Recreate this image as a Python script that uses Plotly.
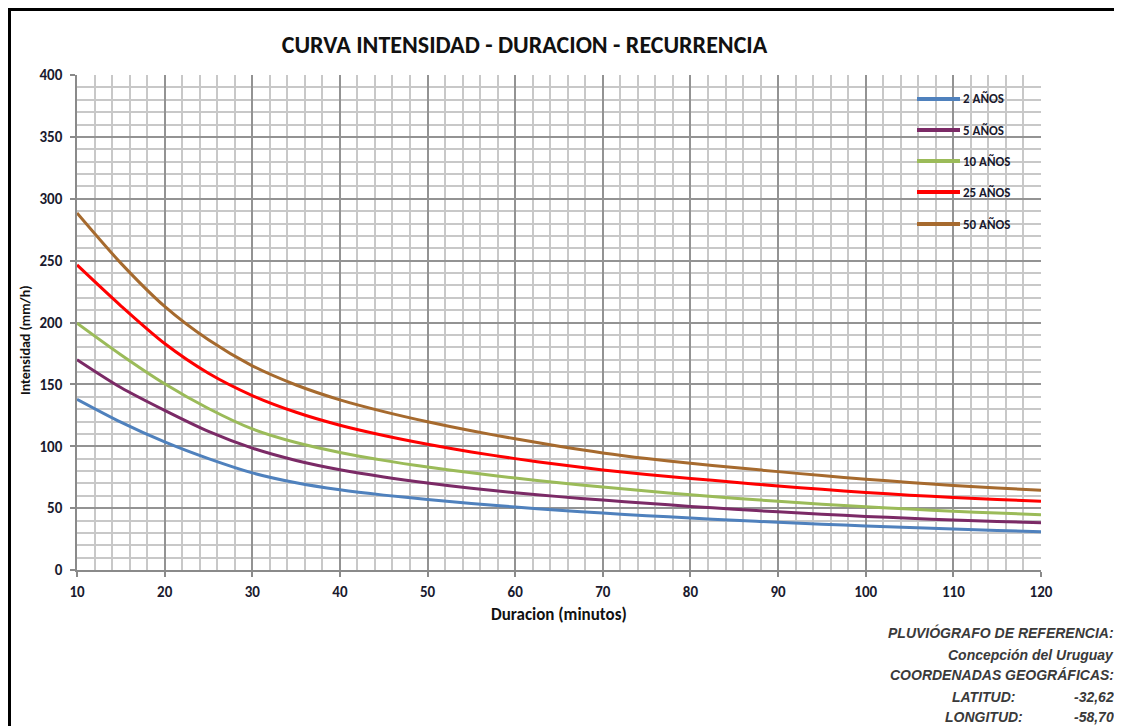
import plotly.graph_objects as go

duracion = [10, 15, 20, 25, 30, 35, 40, 45, 50, 55, 60, 65, 70, 75, 80, 85, 90, 95, 100, 105, 110, 115, 120]

i_2 = [138, 119.5, 103.5, 90, 78.5, 70.5, 64.8, 60.5, 57, 53.8, 50.9, 48.3, 46, 43.9, 42, 40.2, 38.5, 37, 35.6, 34.3, 33.1, 32, 31]
i_5 = [170, 147.5, 129, 112, 98.5, 88.5, 81, 75.2, 70.3, 66.1, 62.4, 59.3, 56.5, 53.9, 51.4, 49.1, 47, 45.1, 43.3, 41.8, 40.4, 39.2, 38.2]
i_10 = [199.5, 174, 150.5, 130.5, 114, 103, 95, 88.6, 83.2, 78.5, 74.3, 70.5, 67, 63.8, 60.8, 58, 55.5, 53.2, 51.1, 49.2, 47.5, 46, 44.7]
i_25 = [246.5, 213.5, 183, 159, 141, 127.5, 117, 108.7, 101.6, 95.4, 90, 85.2, 80.9, 77.2, 74, 70.9, 67.9, 65.2, 62.7, 60.5, 58.6, 57, 55.5]
i_50 = [288.5, 248, 213, 186, 165, 149.5, 137.5, 128, 119.8, 112.5, 106, 100, 94.6, 90.1, 86.3, 82.8, 79.5, 76.3, 73.4, 70.7, 68.3, 66.3, 64.5]

series_names = ["2 AÑOS", "5 AÑOS", "10 AÑOS", "25 AÑOS", "50 AÑOS"]
series_values = [i_2, i_5, i_10, i_25, i_50]
series_colors = ["#4F81BD", "#7B2A66", "#9BBB59", "#FF0000", "#A66A2E"]

x_ticks = [10, 20, 30, 40, 50, 60, 70, 80, 90, 100, 110, 120]
y_ticks = [0, 50, 100, 150, 200, 250, 300, 350, 400]

info_lines = ["PLUVIÓGRAFO DE REFERENCIA:", "Concepción del Uruguay", "COORDENADAS GEOGRÁFICAS:"]
coord_labels = ["LATITUD:", "LONGITUD:"]
coord_values = ["-32,62", "-58,70"]

# page has an 8px body margin: work in reference pixels shifted by OFF
OFF = 8
W, H = 1122, 726
L, R, T, B = 77 - OFF, 1041 - OFF, 75 - OFF, 570 - OFF
pw, ph = R - L, B - T


def px(xp):
    return (xp - OFF - L) / pw


def py(yp):
    return (B - (yp - OFF)) / ph


fig = go.Figure()
for k, (name, vals, col) in enumerate(zip(series_names, series_values, series_colors)):
    fig.add_trace(go.Scatter(
        x=duracion, y=vals, name=name, mode="lines",
        line=dict(color=col, width=3, shape="spline", smoothing=0.8),
        showlegend=False,
    ))

font_main = "Carlito, Lato, 'Open Sans', sans-serif"
tick_col = "#1a1a2e"

fig.update_layout(
    width=W, height=H,
    paper_bgcolor="white", plot_bgcolor="white",
    margin=dict(l=L, r=W - R, t=T, b=H - B, autoexpand=False),
    showlegend=False,
    xaxis=dict(
        range=[10, 120], tickvals=x_ticks, ticktext=[str(v) for v in x_ticks],
        showgrid=True, gridcolor="#939393", gridwidth=1.5,
        minor=dict(dtick=2, showgrid=True, gridcolor="#c8c8c8", gridwidth=1.5),
        showline=True, linecolor="#8a8a8a", linewidth=1.5,
        ticks="outside", ticklen=5, tickcolor="#8a8a8a", tickwidth=1.5,
        zeroline=False, ticklabelstandoff=2,
        tickfont=dict(family=font_main, size=15, color=tick_col, weight="bold"),
    ),
    yaxis=dict(
        range=[0, 400], tickvals=y_ticks, ticktext=[str(v) for v in y_ticks],
        showgrid=True, gridcolor="#939393", gridwidth=1.5,
        minor=dict(dtick=10, showgrid=True, gridcolor="#c8c8c8", gridwidth=1.5),
        showline=True, linecolor="#8a8a8a", linewidth=1.5,
        ticks="outside", ticklen=5, tickcolor="#8a8a8a", tickwidth=1.5,
        zeroline=False, ticklabelstandoff=5,
        tickfont=dict(family=font_main, size=15, color=tick_col, weight="bold"),
    ),
    title=dict(
        text="CURVA INTENSIDAD - DURACION - RECURRENCIA",
        x=(524.5 - OFF) / W, xanchor="center", y=1 - (45 - OFF) / H, yanchor="middle",
        font=dict(family=font_main, size=24, color="#111111", weight="bold"),
    ),
)

# axis titles
fig.add_annotation(text="Duracion (minutos)", xref="paper", yref="paper",
                   x=px(559), y=py(614), xanchor="center", yanchor="middle", showarrow=False,
                   font=dict(family=font_main, size=17, color="#111111", weight="bold"))
fig.add_annotation(text="Intensidad (mm/h)", xref="paper", yref="paper",
                   x=px(25), y=py(340), xanchor="center", yanchor="middle", showarrow=False,
                   textangle=-90,
                   font=dict(family=font_main, size=14, color="#111111", weight="bold"))

# legend (drawn manually to match sample length and row spacing)
leg_y = [99, 130, 161, 192, 224]
for name, col, yy in zip(series_names, series_colors, leg_y):
    fig.add_shape(type="line", xref="paper", yref="paper",
                  x0=px(917), x1=px(960), y0=py(yy), y1=py(yy),
                  line=dict(color=col, width=4))
    fig.add_annotation(text=name, xref="paper", yref="paper", x=px(961), y=py(yy),
                       xanchor="left", yanchor="middle", showarrow=False,
                       font=dict(family=font_main, size=13, color=tick_col, weight="bold"))

# outer frame
fig.add_shape(type="rect", xref="paper", yref="paper",
              x0=px(9.5), x1=px(1116.5), y0=py(9.5), y1=py(770),
              line=dict(color="black", width=3), fillcolor="rgba(0,0,0,0)", layer="above")

info_font = dict(family="'Liberation Sans', Arial, sans-serif", size=14, color="#3a3a3a",
                 weight="bold", style="italic")
info_y = [632, 655, 675]
for txt, yy in zip(info_lines, info_y):
    fig.add_annotation(text=txt, xref="paper", yref="paper", x=px(1116), y=py(yy),
                       xanchor="right", yanchor="middle", showarrow=False, font=info_font)
coord_y = [697, 717]
for lab, val, yy in zip(coord_labels, coord_values, coord_y):
    fig.add_annotation(text=lab, xref="paper", yref="paper", x=px(984), y=py(yy),
                       xanchor="center", yanchor="middle", showarrow=False, font=info_font)
    fig.add_annotation(text=val, xref="paper", yref="paper", x=px(1116), y=py(yy),
                       xanchor="right", yanchor="middle", showarrow=False, font=info_font)

fig.write_html("out.html")
